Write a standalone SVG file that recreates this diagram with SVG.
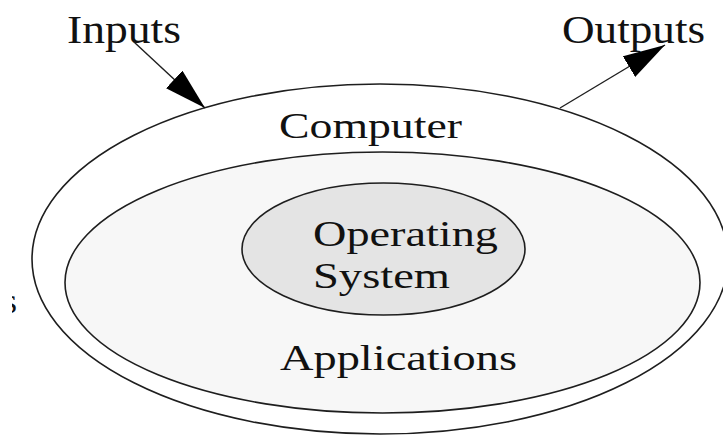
<svg xmlns="http://www.w3.org/2000/svg" width="723" height="437" viewBox="0 0 723 437">
  <style>
    .ring { stroke: #1e1e1e; stroke-width: 1.6; }
    .label { font-family: "Liberation Serif", "Times New Roman", serif; font-size: 36px; fill: #111; }
    .io { font-size: 40px; }
    .wire { stroke: #1e1e1e; stroke-width: 1.4; fill: none; }
  </style>
  <defs>
    <marker id="head" markerUnits="userSpaceOnUse" viewBox="0 0 42 24" refX="42" refY="12" markerWidth="42" markerHeight="24" orient="auto">
      <path d="M0,0 L42,12 L0,24 z" fill="#000"/>
    </marker>
    <clipPath id="edgeClip">
      <rect x="12" y="280" width="10" height="40"/>
    </clipPath>
  </defs>

  <rect width="723" height="437" fill="#ffffff"/>

  <g id="computer">
    <ellipse class="ring" cx="380" cy="259" rx="348" ry="175" fill="#ffffff"/>
    <text class="label" x="279" y="138" textLength="183" lengthAdjust="spacingAndGlyphs">Computer</text>
  </g>

  <g id="applications">
    <ellipse class="ring" cx="382.5" cy="282.5" rx="317.5" ry="130.5" fill="#f7f7f7"/>
    <text class="label" x="280" y="370" textLength="237" lengthAdjust="spacingAndGlyphs">Applications</text>
  </g>

  <g id="operating-system">
    <ellipse class="ring" cx="383.5" cy="249" rx="141.5" ry="66" fill="#e4e4e4"/>
    <text class="label" x="313" y="246" textLength="185" lengthAdjust="spacingAndGlyphs">Operating</text>
    <text class="label" x="313" y="288" textLength="137" lengthAdjust="spacingAndGlyphs">System</text>
  </g>

  <g id="inputs">
    <text class="label io" x="67" y="43" textLength="114" lengthAdjust="spacingAndGlyphs">Inputs</text>
  </g>

  <g id="outputs">
    <text class="label io" x="562" y="43" textLength="143" lengthAdjust="spacingAndGlyphs">Outputs</text>
  </g>

  <g id="edge-fragment" clip-path="url(#edgeClip)">
    <text class="label" x="17" y="313" text-anchor="end">s</text>
  </g>

  <g id="connectors">
    <path class="wire" d="M134,42 L205,108" marker-end="url(#head)"/>
    <path class="wire" d="M560,108 L665,45" marker-end="url(#head)"/>
  </g>
</svg>
